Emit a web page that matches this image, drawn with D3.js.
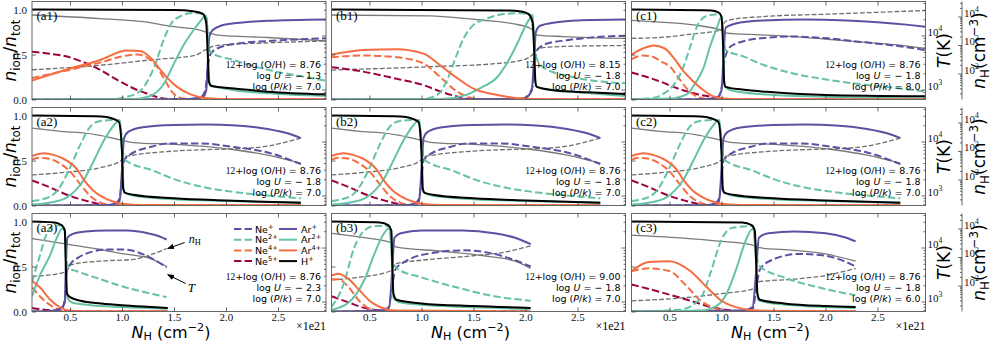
<!DOCTYPE html>
<html>
<head>
<meta charset="utf-8">
<script src="https://cdn.jsdelivr.net/npm/d3@7"></script>
<style>
  body { margin: 0; background: #fff; }
  svg { display: block; }
</style>
</head>
<body>
<svg id="fig" width="997" height="343"></svg>
<script>
// panels in reading order, and which model each one shows (a2, b2, c2 are the same run)
const panelNames = ["a1", "b1", "c1", "a2", "b2", "c2", "a3", "b3", "c3"];
const panelModel = [0, 1, 2, 3, 3, 3, 4, 5, 6];
const modelOH = ["8.76", "8.15", "8.76", "8.76", "8.76", "9.00", "8.76"];
const modelLogU = ["1.3", "1.8", "1.8", "1.8", "2.3", "1.8", "1.8"];
const modelLogPk = ["7.0", "7.0", "8.0", "7.0", "7.0", "7.0", "6.0"];
const xTicks = [0.5, 1.0, 1.5, 2.0, 2.5];
const yTicks = [0, 0.5, 1.0];
const tTicks = [1e3, 1e4];
const nTicks = [1e2, 1e3, 1e4];

// N_H in 1e21 cm^-2 vs ion fraction, one list per model
const hII = [
  [[0.135,1.0],[1.5,0.995],[1.7,0.98],[1.78,0.95],[1.81,0.85],[1.825,0.5],[1.835,0.2],[1.86,0.15],[1.95,0.136],[2.1,0.12],[2.4,0.087],[2.96,0.057]],
  [[0.135,1.0],[1.8,0.99],[1.96,0.98],[2.03,0.95],[2.07,0.85],[2.085,0.5],[2.095,0.2],[2.11,0.14],[2.3,0.1],[2.6,0.08],[2.96,0.06]],
  [[0.135,1.0],[0.9,0.99],[0.97,0.97],[1.0,0.92],[1.015,0.6],[1.025,0.2],[1.04,0.14],[1.2,0.11],[1.5,0.08],[2.0,0.05],[2.96,0.035]],
  [[0.135,1.0],[0.8,0.99],[0.9,0.97],[0.97,0.93],[1.0,0.6],[1.01,0.2],[1.03,0.14],[1.11,0.12],[1.5,0.08],[2.0,0.055],[2.72,0.03]],
  [[0.135,1.0],[0.35,0.99],[0.42,0.96],[0.45,0.9],[0.46,0.5],[0.47,0.2],[0.5,0.16],[0.6,0.12],[0.8,0.09],[1.0,0.07],[1.2,0.055],[1.44,0.04]],
  [[0.135,1.0],[0.6,0.99],[0.68,0.96],[0.71,0.9],[0.72,0.5],[0.73,0.2],[0.76,0.13],[1.0,0.09],[1.5,0.06],[2.05,0.04]],
  [[0.135,1.0],[1.2,0.99],[1.29,0.96],[1.32,0.9],[1.335,0.5],[1.345,0.2],[1.37,0.13],[1.6,0.09],[2.0,0.06],[2.29,0.05]]
];
const ar1 = [
  [[0.135,0],[1.6,0.002],[1.7,0.01],[1.78,0.03],[1.81,0.1],[1.825,0.4],[1.84,0.7],[1.87,0.77],[1.95,0.82],[2.1,0.85],[2.4,0.875],[2.96,0.89]],
  [[0.135,0],[1.9,0.003],[2.0,0.02],[2.06,0.1],[2.08,0.4],[2.1,0.75],[2.14,0.82],[2.3,0.86],[2.5,0.88],[2.96,0.89]],
  [[0.135,0],[0.8,0.002],[0.95,0.02],[1.0,0.1],[1.02,0.5],[1.04,0.8],[1.2,0.86],[1.4,0.88],[1.8,0.89],[2.2,0.88],[2.5,0.86],[2.8,0.83],[2.96,0.81]],
  [[0.135,0],[0.85,0.003],[0.93,0.02],[0.98,0.08],[1.0,0.4],[1.02,0.75],[1.06,0.82],[1.2,0.87],[1.5,0.895],[1.8,0.9],[2.1,0.89],[2.4,0.85],[2.6,0.8],[2.72,0.75]],
  [[0.135,0],[0.3,0.005],[0.4,0.03],[0.45,0.1],[0.46,0.5],[0.475,0.82],[0.52,0.86],[0.65,0.89],[0.85,0.9],[1.05,0.9],[1.25,0.87],[1.35,0.84],[1.43,0.8]],
  [[0.135,0],[0.6,0.01],[0.69,0.05],[0.715,0.4],[0.74,0.82],[0.8,0.87],[1.0,0.9],[1.4,0.9],[1.7,0.87],[1.9,0.82],[2.05,0.75]],
  [[0.135,0],[1.2,0.01],[1.3,0.05],[1.33,0.4],[1.36,0.82],[1.45,0.87],[1.7,0.89],[2.0,0.87],[2.2,0.82],[2.29,0.78]]
];
const ne1 = [
  [[0.135,0],[1.6,0.002],[1.75,0.02],[1.8,0.1],[1.83,0.4],[1.85,0.5],[1.92,0.57],[2.1,0.62],[2.4,0.65],[2.96,0.68]],
  [[0.135,0],[1.9,0.003],[2.0,0.02],[2.07,0.15],[2.09,0.45],[2.12,0.56],[2.2,0.62],[2.4,0.66],[2.96,0.71]],
  [[0.135,0],[0.85,0.002],[0.97,0.03],[1.01,0.2],[1.03,0.45],[1.1,0.6],[1.37,0.68],[1.69,0.7],[2.02,0.68],[2.34,0.64],[2.66,0.6],[2.96,0.55]],
  [[0.135,0],[0.9,0.003],[0.97,0.03],[1.0,0.3],[1.02,0.5],[1.07,0.56],[1.27,0.65],[1.45,0.69],[1.76,0.69],[2.08,0.65],[2.4,0.59],[2.72,0.46]],
  [[0.135,0],[0.3,0.003],[0.42,0.02],[0.455,0.2],[0.47,0.45],[0.5,0.52],[0.58,0.6],[0.7,0.66],[0.85,0.69],[1.0,0.69],[1.15,0.66],[1.27,0.6],[1.43,0.49]],
  [[0.135,0],[0.5,0.002],[0.68,0.03],[0.72,0.3],[0.75,0.47],[0.85,0.56],[1.1,0.65],[1.4,0.68],[1.7,0.64],[1.9,0.57],[2.05,0.5]],
  [[0.135,0],[1.1,0.002],[1.3,0.03],[1.34,0.3],[1.37,0.47],[1.5,0.58],[1.75,0.64],[2.0,0.62],[2.2,0.55],[2.29,0.5]]
];
const ar2 = [
  [[0.135,0],[1.1,0.003],[1.25,0.03],[1.4,0.17],[1.5,0.4],[1.6,0.62],[1.7,0.79],[1.76,0.88],[1.8,0.93],[1.815,0.9],[1.83,0.4],[1.85,0.16],[1.95,0.13],[2.1,0.1],[2.4,0.07],[2.96,0.04]],
  [[0.135,0],[1.2,0.005],[1.4,0.04],[1.57,0.13],[1.73,0.25],[1.82,0.4],[1.92,0.62],[1.98,0.77],[2.04,0.9],[2.07,0.94],[2.085,0.5],[2.1,0.15],[2.2,0.11],[2.5,0.08],[2.96,0.04]],
  [[0.135,0],[0.5,0.01],[0.67,0.06],[0.73,0.15],[0.83,0.36],[0.89,0.59],[0.96,0.81],[1.0,0.92],[1.015,0.7],[1.03,0.15],[1.1,0.1],[1.37,0.06],[2.0,0.03],[2.96,0.01]],
  [[0.135,0.01],[0.3,0.03],[0.47,0.09],[0.63,0.28],[0.73,0.5],[0.83,0.73],[0.92,0.89],[0.98,0.95],[1.0,0.6],[1.02,0.15],[1.1,0.11],[1.5,0.07],[2.0,0.05],[2.72,0.03]],
  [[0.135,0.17],[0.21,0.4],[0.31,0.63],[0.37,0.81],[0.42,0.92],[0.445,0.93],[0.46,0.6],[0.475,0.15],[0.52,0.1],[0.7,0.07],[1.0,0.05],[1.44,0.03]],
  [[0.135,0.02],[0.3,0.1],[0.45,0.35],[0.55,0.65],[0.63,0.85],[0.69,0.93],[0.71,0.7],[0.73,0.15],[0.8,0.1],[1.2,0.06],[2.05,0.03]],
  [[0.135,0],[0.8,0.01],[0.95,0.06],[1.05,0.2],[1.15,0.5],[1.23,0.78],[1.3,0.92],[1.33,0.6],[1.35,0.13],[1.5,0.09],[2.29,0.04]]
];
const ne2 = [
  [[0.135,0],[0.9,0.005],[1.05,0.03],[1.18,0.1],[1.31,0.36],[1.4,0.66],[1.47,0.84],[1.57,0.93],[1.66,0.96],[1.78,0.96],[1.815,0.9],[1.83,0.6],[1.86,0.52],[2.07,0.44],[2.4,0.33],[2.72,0.26],[2.96,0.21]],
  [[0.135,0],[1.0,0.005],[1.15,0.05],[1.24,0.2],[1.34,0.5],[1.405,0.68],[1.5,0.83],[1.63,0.9],[1.79,0.95],[1.95,0.96],[2.05,0.94],[2.08,0.7],[2.11,0.45],[2.18,0.35],[2.5,0.24],[2.96,0.18]],
  [[0.135,0],[0.35,0.02],[0.45,0.07],[0.54,0.16],[0.63,0.35],[0.7,0.59],[0.76,0.8],[0.86,0.93],[0.99,0.95],[1.02,0.7],[1.04,0.55],[1.21,0.48],[1.37,0.4],[1.69,0.29],[2.02,0.22],[2.34,0.17],[2.66,0.13],[2.96,0.09]],
  [[0.135,0.05],[0.31,0.1],[0.4,0.2],[0.5,0.42],[0.6,0.68],[0.69,0.87],[0.79,0.94],[0.9,0.95],[0.97,0.94],[1.0,0.75],[1.02,0.52],[1.1,0.46],[1.27,0.4],[1.51,0.29],[1.76,0.21],[2.08,0.15],[2.4,0.11],[2.72,0.08]],
  [[0.135,0.33],[0.21,0.62],[0.27,0.85],[0.34,0.95],[0.42,0.96],[0.45,0.92],[0.465,0.6],[0.49,0.48],[0.56,0.45],[0.79,0.36],[1.0,0.28],[1.2,0.22],[1.43,0.16]],
  [[0.135,0.05],[0.25,0.3],[0.35,0.7],[0.45,0.9],[0.55,0.95],[0.69,0.95],[0.72,0.6],[0.76,0.48],[1.0,0.38],[1.4,0.25],[1.7,0.17],[2.05,0.12]],
  [[0.135,0],[0.6,0.02],[0.8,0.15],[0.9,0.45],[1.0,0.8],[1.1,0.93],[1.3,0.95],[1.34,0.6],[1.37,0.5],[1.6,0.38],[2.0,0.25],[2.29,0.18]]
];
const ar4 = [
  [[0.135,0.21],[0.46,0.33],[0.79,0.44],[1.05,0.545],[1.17,0.54],[1.28,0.46],[1.37,0.33],[1.44,0.235],[1.53,0.14],[1.66,0.057],[1.82,0.013],[2.0,0.004],[2.96,0.003]],
  [[0.135,0.5],[0.44,0.55],[0.76,0.56],[1.02,0.51],[1.18,0.38],[1.34,0.24],[1.5,0.12],[1.73,0.05],[1.98,0.01],[2.2,0.004],[2.96,0.003]],
  [[0.135,0.5],[0.25,0.57],[0.35,0.6],[0.45,0.57],[0.55,0.45],[0.63,0.32],[0.73,0.2],[0.83,0.1],[0.93,0.03],[1.03,0.01],[1.2,0.004],[2.96,0.003]],
  [[0.135,0.55],[0.25,0.58],[0.35,0.56],[0.47,0.5],[0.57,0.4],[0.63,0.29],[0.72,0.17],[0.79,0.11],[0.9,0.05],[1.0,0.02],[1.2,0.005],[2.72,0.003]],
  [[0.135,0.34],[0.21,0.27],[0.31,0.13],[0.4,0.05],[0.5,0.01],[0.6,0.004],[1.44,0.003]],
  [[0.135,0.4],[0.2,0.42],[0.3,0.36],[0.4,0.24],[0.5,0.12],[0.6,0.05],[0.75,0.01],[2.05,0.003]],
  [[0.135,0.45],[0.3,0.55],[0.5,0.56],[0.7,0.45],[0.85,0.28],[1.0,0.12],[1.2,0.03],[1.35,0.01],[2.29,0.003]]
];
const ne4 = [
  [[0.135,0.24],[0.46,0.32],[0.79,0.41],[1.05,0.49],[1.15,0.5],[1.25,0.46],[1.34,0.36],[1.41,0.22],[1.5,0.06],[1.6,0.01],[1.8,0],[2.96,0]],
  [[0.135,0.47],[0.44,0.49],[0.76,0.47],[1.02,0.4],[1.18,0.25],[1.34,0.09],[1.47,0.02],[1.6,0],[2.96,0]],
  [[0.135,0.45],[0.25,0.49],[0.35,0.47],[0.41,0.43],[0.51,0.36],[0.6,0.22],[0.7,0.08],[0.8,0.02],[0.9,0],[2.96,0]],
  [[0.135,0.51],[0.2,0.53],[0.3,0.52],[0.4,0.47],[0.5,0.38],[0.59,0.25],[0.7,0.1],[0.8,0.03],[0.9,0.005],[1.0,0],[2.72,0]],
  [[0.135,0.27],[0.21,0.17],[0.31,0.07],[0.4,0.02],[0.5,0],[1.44,0]],
  [[0.135,0.36],[0.2,0.36],[0.3,0.27],[0.4,0.12],[0.5,0.03],[0.6,0],[2.05,0]],
  [[0.135,0.45],[0.3,0.48],[0.5,0.45],[0.65,0.3],[0.8,0.12],[0.95,0.03],[1.1,0],[2.29,0]]
];
const ne5 = [
  [[0.135,0.53],[0.3,0.51],[0.46,0.48],[0.62,0.42],[0.79,0.33],[0.95,0.22],[1.12,0.12],[1.28,0.05],[1.4,0.01],[1.6,0],[2.96,0]],
  [[0.135,0.36],[0.44,0.31],[0.76,0.23],[1.02,0.16],[1.18,0.09],[1.34,0.035],[1.47,0.005],[1.6,0],[2.96,0]],
  [[0.135,0.3],[0.41,0.2],[0.54,0.14],[0.67,0.09],[0.8,0.05],[0.95,0.02],[1.05,0],[2.96,0]],
  [[0.135,0.28],[0.31,0.2],[0.47,0.12],[0.63,0.06],[0.79,0.015],[0.9,0],[2.72,0]],
  [[0.135,0.04],[0.25,0.02],[0.4,0.005],[0.5,0],[1.44,0]],
  [[0.135,0.17],[0.3,0.1],[0.45,0.04],[0.6,0.01],[0.7,0],[2.05,0]],
  [[0.135,0.3],[0.4,0.22],[0.7,0.12],[0.9,0.05],[1.1,0.01],[1.3,0],[2.29,0]]
];
// temperature (K) and hydrogen density (cm^-3), right-hand log axes
const tempK = [
  [[0.135,24000],[0.79,20600],[1.27,17300],[1.4,15600],[1.5,14600],[1.72,13000],[1.84,11100],[1.92,10200],[2.4,9200],[2.96,7980]],
  [[0.135,24000],[1.08,23100],[1.24,22200],[1.57,19400],[1.89,16400],[2.05,13500],[2.11,10200],[2.37,9570],[2.96,8860]],
  [[0.135,19100],[0.41,17700],[0.73,15700],[1.0,12500],[1.05,11100],[1.37,10300],[1.69,9570],[2.02,8530],[2.34,7600],[2.66,6770],[2.96,5800]],
  [[0.135,17700],[0.47,15100],[0.6,14600],[0.79,13000],[0.95,11100],[1.11,9570],[1.51,8860],[1.76,8200],[2.08,7040],[2.4,5590],[2.72,3960]],
  [[0.135,14600],[0.5,11350],[0.79,9200],[1.02,7600],[1.27,6270],[1.43,4440]],
  [[0.135,18300],[0.4,15700],[0.7,12500],[0.75,10300],[1.2,8530],[1.6,7040],[1.9,5590],[2.05,4120]],
  [[0.135,17000],[0.6,15100],[1.0,13000],[1.3,11100],[1.36,9940],[1.7,8860],[2.0,7600],[2.29,5590]]
];
const densH = [
  [[0.135,135],[0.79,194],[1.27,299],[1.7,430],[1.8,665],[1.9,955],[2.4,1190],[2.96,1375]],
  [[0.135,132],[1.08,173],[1.73,224],[1.98,299],[2.06,430],[2.13,769],[2.37,889],[2.96,955]],
  [[0.135,1710],[0.41,1840],[0.73,2460],[0.99,3290],[1.03,6320],[1.1,7850],[1.37,9770],[2.02,12100],[2.5,14000],[2.96,16200]],
  [[0.135,145],[0.47,180],[0.79,259],[0.98,430],[1.02,618],[1.11,715],[1.43,955],[1.76,1105],[2.08,1190],[2.4,1480],[2.72,2840]],
  [[0.135,208],[0.405,268],[0.47,322],[0.5,523],[0.79,715],[1.11,826],[1.27,1172],[1.43,1980]],
  [[0.135,156],[0.4,194],[0.7,322],[0.75,575],[1.0,769],[1.5,1105],[1.8,1480],[2.05,2460]],
  [[0.135,29],[0.6,36],[1.0,52],[1.3,75],[1.36,135],[1.7,167],[2.0,224],[2.29,400]]
];

const legendLeft = [["Ne", "+"], ["Ne", "2+"], ["Ne", "4+"], ["Ne", "5+"]];
const legendRight = [["Ar", "+"], ["Ar", "2+"], ["Ar", "4+"], ["H", "+"]];

var purple = "#5e4fa2", green = "#66c2a5", orange = "#f46d43", maroon = "#9e0142";
var sans = "DejaVu Sans", serif = "Liberation Serif";

var svg = d3.select("#fig");
var colLeft = [32, 331.5, 631.5], rowTop = [1.5, 107.5, 213.5];
var pw = 294, ph = 98;

var x = d3.scaleLinear().domain([0.1346, 2.962]).range([0, pw]);
var y = d3.scaleLinear().domain([0, 1.09]).range([ph, 0]);
var yT = d3.scaleLog().domain([653, 42700]).range([ph, 0]);
var yN = d3.scaleLog().domain([12.2, 33600]).range([ph, 0]);

// text with italic / sub / sup pieces: parts = [[text, style, family]]
function rich(sel, parts, size, subShift) {
    var shift = 0, sub = subShift || 0.22;
    parts.forEach(function (p) {
        var st = p[1] || "";
        var target = st.indexOf("sub") >= 0 ? sub * size : st.indexOf("sup") >= 0 ? -0.42 * size : 0;
        var ts = sel.append("tspan").text(p[0]).attr("dy", target - shift);
        if (target !== 0) ts.style("font-size", (size * 0.7) + "px");
        if (st.indexOf("i") === 0) ts.style("font-style", "italic");
        if (p[2]) ts.style("font-family", p[2]);
        shift = target;
    });
}

function minorLog(scale) {
    var d = scale.domain(), out = [];
    for (var e = Math.floor(Math.log10(d[0])); e <= Math.ceil(Math.log10(d[1])); e++) {
        for (var k = 2; k < 10; k++) {
            var v = k * Math.pow(10, e);
            if (v > d[0] && v < d[1]) out.push(v);
        }
    }
    return out;
}

function styleAxis(a) {
    a.select(".domain").remove();
    a.selectAll(".tick line").attr("stroke", "#444").attr("stroke-width", 0.8);
    a.selectAll(".tick text").style("font-family", serif).style("font-size", "11px").attr("fill", "#111");
}

var seriesDefs = [
    {data: ne5, color: maroon, dash: true},
    {data: ne4, color: orange, dash: true},
    {data: ne1, color: purple, dash: true},
    {data: ne2, color: green, dash: true},
    {data: ar1, color: purple},
    {data: ar2, color: green},
    {data: ar4, color: orange},
    {data: hII, color: "#000"}
];

var lineFrac = d3.line().x(d => x(d[0])).y(d => y(d[1])).curve(d3.curveMonotoneX);
var lineT = d3.line().x(d => x(d[0])).y(d => yT(d[1])).curve(d3.curveMonotoneX);
var lineN = d3.line().x(d => x(d[0])).y(d => yN(d[1])).curve(d3.curveMonotoneX);

var defs = svg.append("defs");
defs.append("marker").attr("id", "arrow").attr("viewBox", "0 0 10 10")
    .attr("refX", 9).attr("refY", 5).attr("markerWidth", 7).attr("markerHeight", 7)
    .attr("orient", "auto").attr("markerUnits", "userSpaceOnUse")
    .append("path").attr("d", "M0,1 L10,5 L0,9 z").attr("fill", "#000");

panelNames.forEach(function (name, i) {
    var col = i % 3, row = Math.floor(i / 3), m = panelModel[i];
    var g = svg.append("g").attr("transform", "translate(" + colLeft[col] + "," + rowTop[row] + ")");

    defs.append("clipPath").attr("id", "clip" + i)
        .append("rect").attr("width", pw).attr("height", ph);

    var plot = g.append("g").attr("clip-path", "url(#clip" + i + ")");

    // T and n_H (gray, thin)
    plot.append("path").datum(tempK[m])
        .attr("fill", "none").attr("stroke", "#7a7a7a").attr("stroke-width", 1.3)
        .attr("d", lineT);
    plot.append("path").datum(densH[m])
        .attr("fill", "none").attr("stroke", "#6e6e6e").attr("stroke-width", 1.3)
        .attr("stroke-dasharray", "4.8,2.1")
        .attr("d", lineN);

    seriesDefs.forEach(function (s) {
        plot.append("path").datum(s.data[m])
            .attr("fill", "none")
            .attr("stroke", s.color)
            .attr("stroke-width", 2)
            .attr("stroke-dasharray", s.dash ? "7.4,3.2" : null)
            .attr("d", lineFrac);
    });

    // frame
    g.append("rect").attr("width", pw).attr("height", ph)
        .attr("fill", "none").attr("stroke", "#666").attr("stroke-width", 1);

    // x ticks top and bottom, pointing in
    var xb = g.append("g").attr("transform", "translate(0," + ph + ")")
        .call(d3.axisBottom(x).tickValues(xTicks).tickSize(-4).tickPadding(1.2)
            .tickFormat(row === 2 ? d3.format(".1f") : ""));
    styleAxis(xb);
    var xt = g.append("g").call(d3.axisTop(x).tickValues(xTicks).tickSize(-4).tickFormat(""));
    styleAxis(xt);

    // left ion fraction axis
    var yl = g.append("g")
        .call(d3.axisLeft(y).tickValues(yTicks).tickSize(-4).tickPadding(5)
            .tickFormat(col === 0 ? d3.format(".1f") : ""));
    styleAxis(yl);

    // right temperature axis
    var tMinor = g.append("g").attr("transform", "translate(" + pw + ",0)")
        .call(d3.axisRight(yT).tickValues(minorLog(yT)).tickSize(-2).tickFormat(""));
    styleAxis(tMinor);
    var tMajor = g.append("g").attr("transform", "translate(" + pw + ",0)")
        .call(d3.axisRight(yT).tickValues(tTicks).tickSize(-4).tickPadding(2).tickFormat(""));
    styleAxis(tMajor);
    if (col === 2) {
        tMajor.selectAll(".tick text").each(function (d) {
            rich(d3.select(this), [["10"], [String(Math.round(Math.log10(d))), "sup"]], 11);
        });

        // offset density axis
        var nx = pw + 36.5;
        g.append("line").attr("x1", nx).attr("x2", nx).attr("y1", 0).attr("y2", ph)
            .attr("stroke", "#666").attr("stroke-width", 1);
        var nMinor = g.append("g").attr("transform", "translate(" + nx + ",0)")
            .call(d3.axisRight(yN).tickValues(minorLog(yN)).tickSize(-2).tickFormat(""));
        styleAxis(nMinor);
        var nMajor = g.append("g").attr("transform", "translate(" + nx + ",0)")
            .call(d3.axisRight(yN).tickValues(nTicks).tickSize(-4).tickPadding(2).tickFormat(""));
        styleAxis(nMajor);
        nMajor.selectAll(".tick text").each(function (d) {
            rich(d3.select(this), [["10"], [String(Math.round(Math.log10(d))), "sup"]], 11);
        });

        var tl = g.append("text")
            .attr("transform", "translate(" + (pw + 24.5) + "," + (ph / 2) + ") rotate(-90)")
            .attr("text-anchor", "middle").attr("dy", "0.35em")
            .style("font-family", sans).style("font-size", "17px");
        rich(tl, [["T", "i"], ["(K)"]], 17);

        var nl = g.append("text")
            .attr("transform", "translate(" + (pw + 59.5) + "," + (ph / 2) + ") rotate(-90)")
            .attr("text-anchor", "middle").attr("dy", "0.35em")
            .style("font-family", sans).style("font-size", "17px");
        rich(nl, [["n", "i"], ["H", "sub"], ["(cm"], ["\u22123", "sup"], [")"]], 17);
    }

    if (col === 0) {
        var yLab = g.append("text")
            .attr("transform", "translate(" + (-16) + "," + (ph / 2) + ") rotate(-90)")
            .attr("text-anchor", "middle")
            .style("font-family", sans).style("font-size", "17px");
        rich(yLab, [["n", "i"], ["ion", "sub"], ["/"], ["n", "i"], ["tot", "sub"]], 17);
    }

    // panel label
    g.append("text").attr("x", 4.5).attr("y", 18.5)
        .style("font-family", serif).style("font-size", "13px")
        .text("(" + name + ")");

    // model parameters
    var ann = g.append("g").style("font-family", sans).style("font-size", "9.5px")
        .attr("text-anchor", "end");
    var t1 = ann.append("text").attr("x", pw - 5).attr("y", ph - 35 + 3.3);
    rich(t1, [["12", "", serif], ["+log (O/H) = " + modelOH[m]]], 9.5);
    var t2 = ann.append("text").attr("x", pw - 5).attr("y", ph - 23.5 + 3.3);
    rich(t2, [["log "], ["U", "i"], [" =  \u2212 " + modelLogU[m]]], 9.5);
    var t3 = ann.append("text").attr("x", pw - 5).attr("y", ph - 12.5 + 3.3);
    rich(t3, [["log ("], ["P", "i"], ["/"], ["k", "i"], [") = " + modelLogPk[m]]], 9.5);

    if (row === 2) {
        g.append("text").attr("x", pw).attr("y", ph + 18.5)
            .attr("text-anchor", "end")
            .style("font-family", serif).style("font-size", "12px")
            .text("\u00d71e21");
        var xl = g.append("text").attr("x", pw / 2 - 8).attr("y", ph + 26.3)
            .attr("text-anchor", "middle")
            .style("font-family", sans).style("font-size", "16px");
        rich(xl, [["N", "i"], ["H", "sub"], [" (cm"], ["\u22122", "sup"], [")"]], 16, 0.15);
    }

    if (name === "a3") {
        // legend
        var lg = g.append("g").style("font-family", sans).style("font-size", "9.5px");
        legendLeft.forEach(function (it, k) {
            var yy = 15.5 + k * 10.7;
            lg.append("line").attr("x1", 202).attr("x2", 220).attr("y1", yy).attr("y2", yy)
                .attr("stroke", [purple, green, orange, maroon][k]).attr("stroke-width", 2)
                .attr("stroke-dasharray", "7.4,3.2");
            var tx = lg.append("text").attr("x", 223).attr("y", yy + 3.5);
            rich(tx, [[it[0]], [it[1], "sup"]], 9.5);
        });
        legendRight.forEach(function (it, k) {
            var yy = 15.5 + k * 10.7;
            lg.append("line").attr("x1", 247).attr("x2", 265).attr("y1", yy).attr("y2", yy)
                .attr("stroke", [purple, green, orange, "#000"][k]).attr("stroke-width", 2);
            var tx = lg.append("text").attr("x", 269).attr("y", yy + 3.5);
            rich(tx, [[it[0]], [it[1], "sup"]], 9.5);
        });

        // arrows to the n_H and T curves
        var nEnd = densH[m][densH[m].length - 1], tEnd = tempK[m][tempK[m].length - 1];
        var nx0 = x(nEnd[0]) + 1, ny0 = yN(nEnd[1]);
        g.append("line").attr("x1", nx0 + 17).attr("y1", ny0 - 6).attr("x2", nx0).attr("y2", ny0)
            .attr("stroke", "#000").attr("stroke-width", 1).attr("marker-end", "url(#arrow)");
        var nt = g.append("text").attr("x", nx0 + 21).attr("y", ny0 - 6)
            .style("font-family", serif).style("font-size", "12px");
        rich(nt, [["n", "i"], ["H", "sub"]], 12);
        var tx0 = x(tEnd[0]) + 1, ty0 = yT(tEnd[1]) + 8;
        g.append("line").attr("x1", tx0 + 18).attr("y1", ty0 + 9).attr("x2", tx0).attr("y2", ty0)
            .attr("stroke", "#000").attr("stroke-width", 1).attr("marker-end", "url(#arrow)");
        g.append("text").attr("x", tx0 + 20).attr("y", ty0 + 17)
            .style("font-family", serif).style("font-size", "13px").style("font-style", "italic")
            .text("T");
    }
});
</script>
</body>
</html>
